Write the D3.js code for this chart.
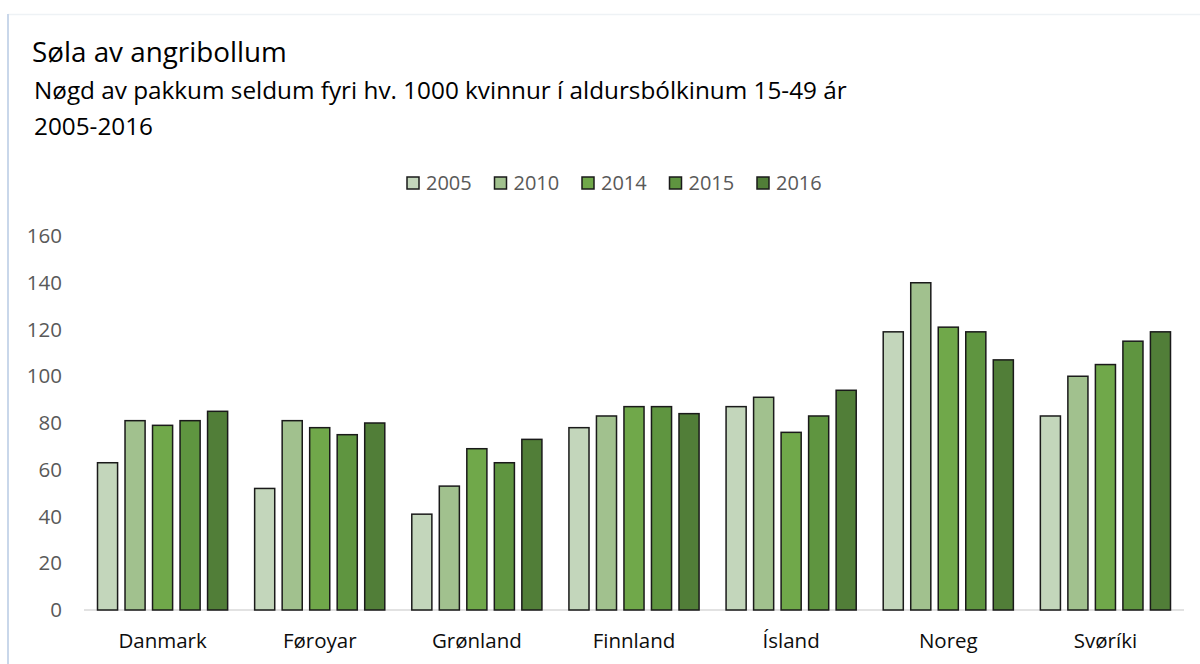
<!DOCTYPE html>
<html>
<head>
<meta charset="utf-8">
<script src="https://cdn.jsdelivr.net/npm/d3@7"></script>
<style>
  body { margin: 0; background: #fff; }
  svg text { font-family: "Open Sans", Lato, sans-serif; }
</style>
</head>
<body>
<div id="chart"></div>
<script>

// Data

var countries = ["Danmark", "Føroyar", "Grønland", "Finnland", "Ísland", "Noreg", "Svøríki"];
var years = ["2005", "2010", "2014", "2015", "2016"];

var v2005 = [63, 52, 41, 78, 87, 119, 83];
var v2010 = [81, 81, 53, 83, 91, 140, 100];
var v2014 = [79, 78, 69, 87, 76, 121, 105];
var v2015 = [81, 75, 63, 87, 83, 119, 115];
var v2016 = [85, 80, 73, 84, 94, 107, 119];

var yTicks = [0, 20, 40, 60, 80, 100, 120, 140, 160];

var seriesValues = [v2005, v2010, v2014, v2015, v2016];
var colors = ["#c3d6bb", "#a1c18e", "#70a84a", "#5f9540", "#517e38"];

var W = 1200, H = 664;
var margin = { top: 236, right: 16, bottom: 54, left: 84 },
    width = W - margin.left - margin.right,
    height = H - margin.top - margin.bottom;

var svg = d3.select("#chart").append("svg")
    .attr("width", W)
    .attr("height", H);

// faint chart frame
svg.append("line")
    .attr("x1", 8).attr("x2", W).attr("y1", 14.5).attr("y2", 14.5)
    .attr("stroke", "#eef2f5").attr("stroke-width", 1.5);
svg.append("line")
    .attr("x1", 8).attr("x2", 8).attr("y1", 14).attr("y2", H)
    .attr("stroke", "#c9d7ea").attr("stroke-width", 2);

// titles
svg.append("text")
    .attr("x", 32).attr("y", 62)
    .attr("font-size", 27.8).attr("fill", "#000")
    .text("Søla av angribollum");
svg.append("text")
    .attr("x", 34).attr("y", 99)
    .attr("font-size", 24.3).attr("fill", "#000")
    .text("Nøgd av pakkum seldum fyri hv. 1000 kvinnur í aldursbólkinum 15-49 ár");
svg.append("text")
    .attr("x", 34).attr("y", 135)
    .attr("font-size", 24.3).attr("fill", "#000")
    .text("2005-2016");

var g = svg.append("g")
    .attr("transform", "translate(" + margin.left + "," + margin.top + ")");

var x0 = d3.scaleBand()
    .domain(countries)
    .range([0, width]);

var groupPad = 13.5;
var x1 = d3.scaleBand()
    .domain(years)
    .range([groupPad, x0.bandwidth() - groupPad])
    .paddingInner(0.27);

var y = d3.scaleLinear()
    .domain([0, 160])
    .range([height, 0]);

// y labels
g.selectAll(".ytick")
    .data(yTicks)
  .enter().append("text")
    .attr("class", "ytick")
    .attr("x", -22)
    .attr("y", function(d) { return y(d); })
    .attr("dy", "0.35em")
    .attr("text-anchor", "end")
    .attr("font-size", 20.5)
    .attr("fill", "#595959")
    .text(function(d) { return d; });

// baseline
g.append("line")
    .attr("x1", 0).attr("x2", width)
    .attr("y1", y(0)).attr("y2", y(0))
    .attr("stroke", "#d9d9d9").attr("stroke-width", 1.5);

var rows = countries.map(function(c, i) {
  return { country: c, values: years.map(function(yr, j) { return { year: yr, j: j, value: seriesValues[j][i] }; }) };
});

var groups = g.selectAll(".group")
    .data(rows)
  .enter().append("g")
    .attr("class", "group")
    .attr("transform", function(d) { return "translate(" + x0(d.country) + ",0)"; });

groups.selectAll("rect")
    .data(function(d) { return d.values; })
  .enter().append("rect")
    .attr("x", function(d) { return x1(d.year); })
    .attr("y", function(d) { return y(d.value); })
    .attr("width", x1.bandwidth())
    .attr("height", function(d) { return y(0) - y(d.value); })
    .attr("fill", function(d) { return colors[d.j]; })
    .attr("stroke", "#1a1a1a")
    .attr("stroke-width", 1.5);

// category labels
g.selectAll(".xlabel")
    .data(countries)
  .enter().append("text")
    .attr("class", "xlabel")
    .attr("x", function(d) { return x0(d) + x0.bandwidth() / 2; })
    .attr("y", y(0) + 38)
    .attr("text-anchor", "middle")
    .attr("font-size", 20.5)
    .attr("fill", "#0d0d0d")
    .text(function(d) { return d; });

// legend
var legend = svg.append("g")
    .attr("transform", "translate(407,177)");

var item = legend.selectAll(".item")
    .data(years)
  .enter().append("g")
    .attr("class", "item")
    .attr("transform", function(d, i) { return "translate(" + (i * 87.5) + ",0)"; });

item.append("rect")
    .attr("width", 12).attr("height", 12)
    .attr("fill", function(d, i) { return colors[i]; })
    .attr("stroke", "#1a1a1a").attr("stroke-width", 1.5);

item.append("text")
    .attr("x", 19).attr("y", 6)
    .attr("dy", "0.35em")
    .attr("font-size", 20)
    .attr("fill", "#595959")
    .text(function(d) { return d; });

</script>
</body>
</html>
